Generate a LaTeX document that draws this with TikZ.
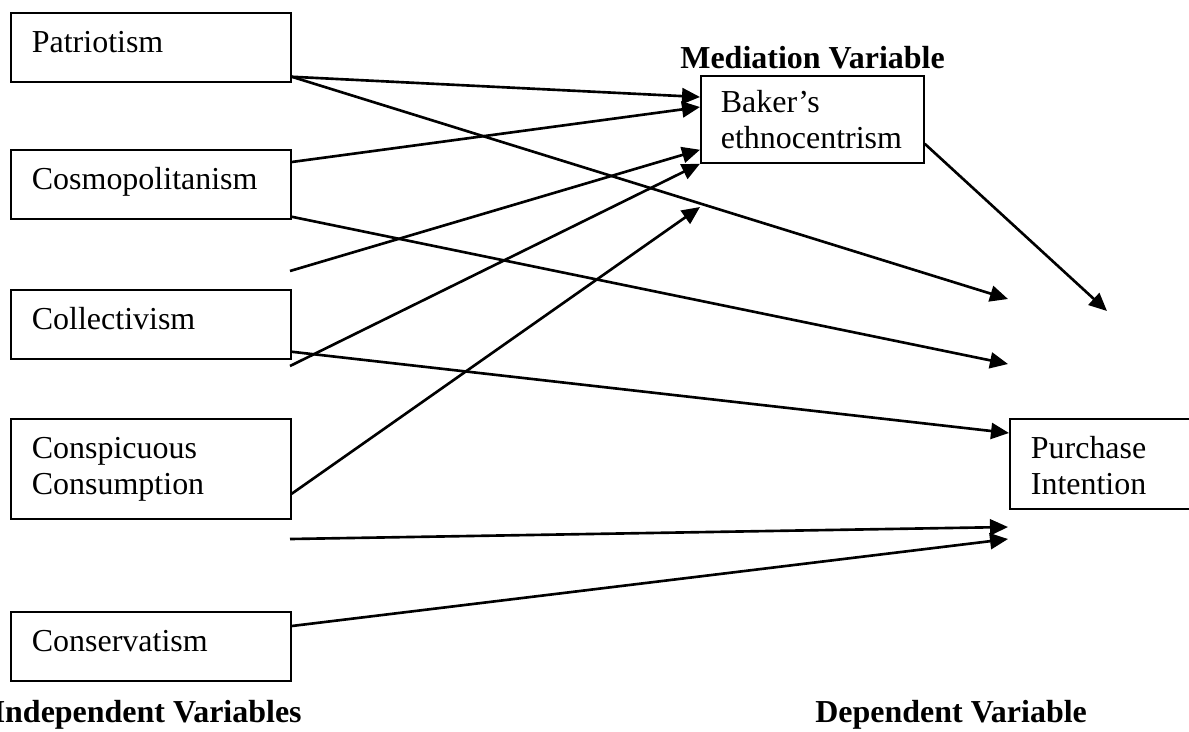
\documentclass[tikz,border=0pt]{standalone}
\usepackage{fontspec}
\setmainfont{Liberation Serif}
\usetikzlibrary{positioning}
\usetikzlibrary{calc}
\usetikzlibrary{arrows.meta}

\tikzset{
 varbox/.style={draw, line width=1pt, anchor=north west, inner xsep=0.42cm, inner ysep=0pt,
   text width=4.76cm, align=left, text height=0.8cm, text depth=0.58cm},
 head/.style={font=\fontsize{18.2}{20.5}\selectfont\bfseries, inner sep=0pt},
 link/.style={line width=1.5pt, -{Triangle[length=0.36cm, width=0.32cm]}},
}

\begin{document}
\begin{tikzpicture}[x=0.02cm, y=-0.02cm, font=\fontsize{18.2}{20.5}\selectfont]
 \useasboundingbox (0,0) rectangle (1189,731);
 \node[varbox] (pat) at (10,12) {Patriotism};
 \node[varbox] (cos) at (10,149) {Cosmopolitanism};
 \node[varbox] (col) at (10,289) {Collectivism};
 \node[varbox, text depth=1.2cm] (csp) at (10,418) {Conspicuous\\Consumption};
 \node[varbox] (cvm) at (10,611) {Conservatism};
 \node[varbox, inner xsep=0.4cm, text width=3.66cm, text height=0.74cm, text depth=1.0cm] (bak) at (700,75) {Baker's\\ethnocentrism};
 \node[varbox, text width=3.0cm, text depth=1.0cm] (pur) at (1009,418) {Purchase\\Intention};
 \node[head, anchor=base west] (med) at (680,68) {Mediation Variable};
 \node[head, anchor=base east] (ind) at (302,722) {Independent Variables};
 \node[head, anchor=base west] (dep) at (815,722) {Dependent Variable};
 \coordinate (e1) at (1008,299);
 \coordinate (e2) at (1008,364);
 \coordinate (s1) at (290,271);
 \coordinate (s2) at (290,366);
 \coordinate (e3) at (700,207);
 \coordinate (s3) at (290,539);
 \coordinate (e4) at (1008,527);
 \coordinate (e5) at (1008,539);
 \coordinate (e6) at (1107,311);
 \draw[link] ($(pat.south east)+(0,-6)$) -- ($(bak.north west)+(0,22)$);
 \draw[link] ($(pat.south east)+(0,-6)$) -- (e1);
 \draw[link] ($(cos.north east)+(0,13)$) -- ($(bak.north west)+(0,32)$);
 \draw[link] ($(cos.south east)+(0,-3)$) -- (e2);
 \draw[link] (s1) -- ($(bak.south west)+(0,-14)$);
 \draw[link] (s2) -- (bak.south west);
 \draw[link] ($(col.south east)+(0,-8)$) -- ($(pur.north west)+(0,15)$);
 \draw[link] ($(csp.south east)+(0,-26)$) -- (e3);
 \draw[link] (s3) -- (e4);
 \draw[link] ($(cvm.north east)+(0,15)$) -- (e5);
 \draw[link] ($(bak.south east)+(0,-20)$) -- (e6);
\end{tikzpicture}
\end{document}
